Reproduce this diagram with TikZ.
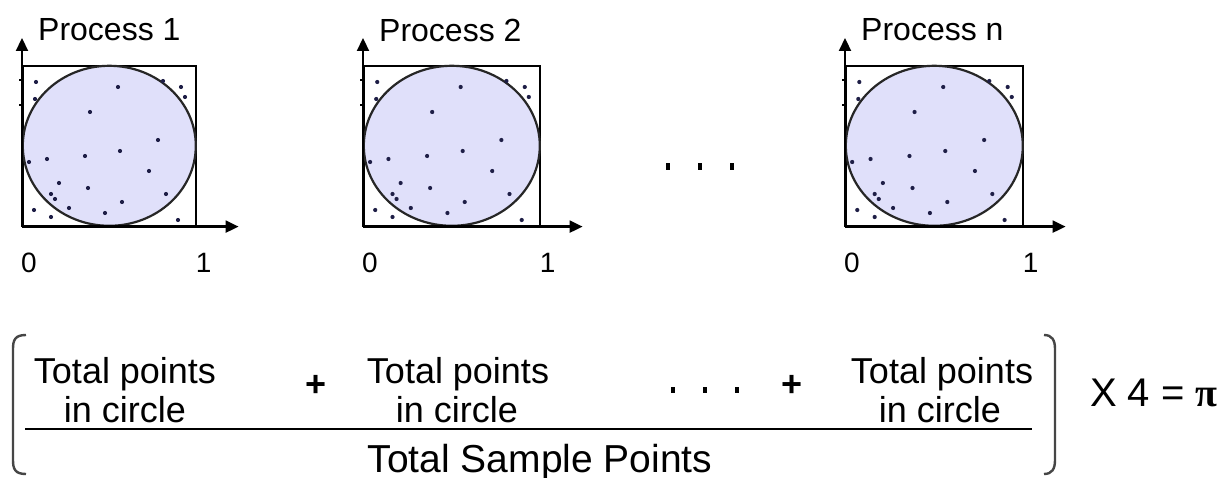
\documentclass[tikz,border=0pt]{standalone}
\usepackage{fontspec}
\setmainfont{Liberation Sans}
\newfontfamily\pifont{Liberation Serif}
\usetikzlibrary{arrows.meta,shapes.geometric}
\definecolor{lav}{RGB}{224,224,250}
\definecolor{dotc}{RGB}{30,30,70}
\definecolor{brk}{RGB}{70,70,70}
\tikzset{
  boxst/.style={draw=black,line width=1.6pt,minimum height=160pt,anchor=north west,inner sep=0pt},
  circst/.style={ellipse,draw=black!85,line width=2.2pt,fill=lav,inner sep=0pt,minimum height=160pt},
  axis/.style={line width=2.2pt,-{Triangle[length=13pt,width=12pt]}},
  lbl/.style={font=\fontsize{32}{36}\selectfont,inner sep=0pt},
  num/.style={font=\fontsize{28}{32}\selectfont,inner sep=0pt},
  txt/.style={font=\fontsize{36}{40}\selectfont,inner sep=0pt,anchor=base},
  plus/.style={font=\fontsize{36}{40}\selectfont\bfseries,inner sep=0pt},
  dotst/.style={fill=dotc},
  bigdot/.style={fill=black,inner sep=0pt,minimum width=4.5pt,minimum height=7pt},
  fdot/.style={fill=black,inner sep=0pt,minimum width=4pt,minimum height=6pt},
  frac/.style={line width=2pt},
  brack/.style={line width=2.4pt,draw=brk},
}
\newcommand\mcpanel[4]{%
  \node[boxst,minimum width=#3pt] (#1box) at (#2,65) {};
  \node[circst,minimum width=#3pt] (#1circ) at (#1box.center) {};
  \begin{scope}[shift={(#2,65)}]
    \foreach \a/\b in {14/17,96/22,141/16,159/22,163/32,13/34,68/47,136/75,98/86,63/91,25/94,7/97,127/106,37/118,66/123,29/129,33/134,144/129,100/137,47/143,83/148,12/145,29/152,156/155}
      \fill[dotst] ({\a/173*#3},\b) circle[radius=2.1pt];
    \draw[line width=1.2pt] (-3,15) -- (2,15);
    \draw[line width=1.2pt] (-3,40) -- (2,40);
  \end{scope}
  \coordinate (#1ytip) at ([yshift=27pt]#1box.north west);
  \coordinate (#1xtip) at ([xshift=42pt]#1box.south east);
  \draw[axis] (#1box.south west) -- (#1ytip);
  \draw[axis] (#1box.south west) -- (#1xtip);
  \node[lbl,anchor=west] (#1lbl) at (#2+16,30) {#4};
  \node[num] (#1zero) at ([xshift=7pt,yshift=-36pt]#1box.south west) {0};
  \node[num] (#1one) at ([xshift=7pt,yshift=-36pt]#1box.south east) {1};
}
\begin{document}
\begin{tikzpicture}[x=1pt,y=-1pt]
\useasboundingbox (0,0) rectangle (1223,478);
\fill[white] (0,0) rectangle (1223,478);
\mcpanel{pa}{22}{173}{Process 1}
\mcpanel{pb}{363}{176}{Process 2}
\mcpanel{pn}{845}{177}{Process n}
\node[bigdot] (d1) at (668,167) {};
\node[bigdot] (d2) at (700,167) {};
\node[bigdot] (d3) at (732,167) {};
% formula
\node[txt] (tp1) at (125,383) {Total points};
\node[txt] (ic1) at (125,422) {in circle};
\node[plus] (pl1) at (316,386) {+};
\node[txt] (tp2) at (458,383) {Total points};
\node[txt] (ic2) at (457,422) {in circle};
\node[fdot] (fd1) at (673,390) {};
\node[fdot] (fd2) at (705,390) {};
\node[fdot] (fd3) at (737,390) {};
\node[plus] (pl2) at (792,386) {+};
\node[txt] (tp3) at (942,383) {Total points};
\node[txt] (ic3) at (940,422) {in circle};
\coordinate (fl) at (25,429);
\coordinate (fr) at (1032,429);
\draw[frac] (fl) -- (fr);
\node[txt,font=\fontsize{39}{44}\selectfont] (tsp) at (540,472) {Total Sample Points};
\coordinate (lbt) at (26,335);
\coordinate (lbb) at (26,474);
\draw[brack] (lbt) .. controls (15,335) and (13,340) .. (13,349) -- (13,460) .. controls (13,469) and (15,474) .. (lbb);
\coordinate (rbt) at (1044,335);
\coordinate (rbb) at (1044,474);
\draw[brack] (rbt) .. controls (1052,335) and (1055,340) .. (1055,349) -- (1055,460) .. controls (1055,469) and (1052,474) .. (rbb);
\node[txt,font=\fontsize{40}{44}\selectfont,anchor=west] (res) at (1090,393) {X 4 = {\pifont\bfseries π}};
\end{tikzpicture}
\end{document}
